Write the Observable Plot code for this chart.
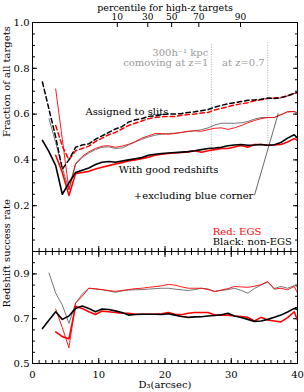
<!DOCTYPE html>
<html><head><meta charset="utf-8">
<script src="https://cdn.jsdelivr.net/npm/d3@7"></script>
<script src="https://cdn.jsdelivr.net/npm/@observablehq/plot@0.6"></script>
<style>
body{margin:0;background:#fff;}
#wrap{position:relative;width:304px;height:392px;overflow:hidden;}
#wrap svg{position:absolute;left:0;}
</style></head><body><div id="wrap"></div>
<script>
// separation bins (arcsec)
const D = [1.5,2.5,3.5,4.5,5.5,6.5,7.5,8.5,9.5,10.5,11.5,12.5,13.5,14.5,15.5,16.5,17.5,18.5,19.5,20.5,
           21.5,22.5,23.5,24.5,25.5,26.5,27.5,28.5,29.5,30.5,31.5,32.5,33.5,34.5,35.5,36.5,37.5,38.5,39.5,40.5];

// Top panel: fraction of all targets
const assignedNonEGS = [0.74,0.62,0.50,0.36,0.40,0.455,0.465,0.47,0.49,0.505,0.52,0.535,0.545,0.565,0.575,0.58,0.59,0.592,0.598,0.60,
                        0.60,0.603,0.607,0.61,0.615,0.62,0.63,0.638,0.645,0.65,0.655,0.66,0.662,0.665,0.67,0.668,0.672,0.68,0.69,0.70];
const assignedEGS = [null,null,0.55,0.46,0.40,0.44,0.45,0.46,0.48,0.495,0.51,0.52,0.535,0.55,0.56,0.57,0.58,0.585,0.588,0.59,
                     0.59,0.595,0.598,0.60,0.605,0.607,0.618,0.625,0.632,0.64,0.645,0.65,0.658,0.663,0.668,0.67,0.672,0.68,0.69,0.70];
const goodNonEGS = [0.485,0.435,0.375,0.25,0.30,0.345,0.355,0.365,0.38,0.39,0.393,0.39,0.395,0.40,0.405,0.41,0.42,0.425,0.428,0.43,
                    0.432,0.434,0.436,0.44,0.445,0.45,0.452,0.455,0.462,0.465,0.467,0.464,0.465,0.467,0.464,0.466,0.476,0.495,0.51,0.48];
const goodEGS = [null,null,0.42,0.345,0.245,0.34,0.345,0.35,0.36,0.368,0.375,0.382,0.388,0.395,0.40,0.405,0.412,0.42,0.425,0.428,
                 0.43,0.432,0.435,0.44,0.433,0.44,0.445,0.45,0.45,0.456,0.463,0.455,0.467,0.467,0.464,0.465,0.467,0.478,0.493,0.477];
const exclNonEGS = [null,0.58,0.475,0.365,0.27,0.38,0.41,0.43,0.445,0.455,0.457,0.45,0.452,0.465,0.478,0.49,0.50,0.508,0.512,0.515,
                    0.517,0.52,0.524,0.527,0.532,0.54,0.552,0.56,0.56,0.56,0.562,0.568,0.578,0.585,0.585,0.585,0.598,0.61,0.61,0.59];
const exclEGS = [null,null,0.71,0.49,0.27,0.385,0.415,0.435,0.45,0.46,0.462,0.455,0.46,0.468,0.48,0.495,0.505,0.515,0.515,0.512,
                 0.515,0.52,0.525,0.527,0.525,0.532,0.538,0.54,0.533,0.54,0.55,0.562,0.572,0.58,0.585,0.585,0.597,0.61,0.612,0.60];

// Bottom panel: redshift success rate
const successNonEGS = [0.656,0.694,0.731,0.697,0.712,0.746,0.757,0.746,0.731,0.743,0.741,0.735,0.728,0.716,0.719,0.72,0.72,0.72,0.719,0.722,
                       0.716,0.71,0.706,0.708,0.709,0.712,0.714,0.718,0.724,0.712,0.705,0.697,0.688,0.69,0.697,0.706,0.716,0.73,0.746,0.735];
const successEGS = [null,null,0.641,0.62,0.61,0.755,0.746,0.731,0.719,0.734,0.731,0.728,0.724,0.724,0.72,0.72,0.72,0.72,0.722,0.728,
                    0.72,0.718,0.724,0.728,0.728,0.728,0.716,0.716,0.716,0.712,0.71,0.706,0.69,0.706,0.694,0.69,0.686,0.705,0.731,0.657];
const successExclNonEGS = [null,0.904,0.814,0.761,0.679,0.769,0.81,0.836,0.832,0.829,0.824,0.818,0.824,0.828,0.829,0.83,0.832,0.834,0.836,0.836,
                           0.832,0.829,0.826,0.83,0.836,0.833,0.822,0.826,0.83,0.836,0.826,0.814,0.835,0.85,0.863,0.835,0.844,0.836,0.848,0.84];
const successExclEGS = [null,null,0.743,0.66,0.57,0.77,0.80,0.836,0.834,0.83,0.826,0.822,0.826,0.83,0.834,0.836,0.84,0.843,0.847,0.853,
                        0.85,0.842,0.836,0.836,0.836,0.83,0.821,0.828,0.834,0.844,0.842,0.84,0.845,0.852,0.866,0.832,0.836,0.829,0.844,0.785];

// Top axis: percentile for high-z targets
const pctLabels = ["10","30","50","70","90"];
const pctD = [12.8, 17.4, 21.0, 25.1, 31.4];

// 300 h^-1 kpc comoving separations
const sepZ1 = 27.0, sepZ07 = 35.5;

const rows = D.map((d, i) => ({d,
  a0: assignedNonEGS[i], a1: assignedEGS[i], g0: goodNonEGS[i], g1: goodEGS[i],
  e0: exclNonEGS[i], e1: exclEGS[i],
  s0: successNonEGS[i], s1: successEGS[i], x0: successExclNonEGS[i], x1: successExclEGS[i]}));

const FONT = "'DejaVu Serif', serif";
const RED = "#ff0000", GRAY = "#666666", LGRAY = "#9a9a9a";
const blank = () => "";
const fmt1 = d3.format(".1f");

const topPlot = Plot.plot({
  width: 304, height: 252, marginLeft: 32, marginRight: 7, marginTop: 22, marginBottom: 1,
  style: {fontFamily: FONT, fontSize: "10px", background: "none", overflow: "visible", color: "#000"},
  x: {domain: [0, 40]},
  y: {domain: [0, 1]},
  marks: [
    // axes
    Plot.axisY({ticks: [0.2,0.4,0.6,0.8,1.0], tickSize: -5, tickPadding: 8, tickFormat: fmt1, label: null}),
    Plot.axisY({ticks: d3.range(0, 1.001, 0.05), tickSize: -3, tickFormat: blank, label: null}),
    Plot.axisY({anchor: "right", ticks: [0.2,0.4,0.6,0.8,1.0], tickSize: -5, tickFormat: blank, label: null}),
    Plot.axisY({anchor: "right", ticks: d3.range(0, 1.001, 0.05), tickSize: -3, tickFormat: blank, label: null}),
    Plot.axisX({anchor: "bottom", ticks: [0,10,20,30,40], tickSize: -5, tickFormat: blank, label: null}),
    Plot.axisX({anchor: "bottom", ticks: d3.range(0, 41, 1), tickSize: -3, tickFormat: blank, label: null}),
    Plot.axisX(pctD, {anchor: "top", tickSize: -4, tickPadding: 7, fontSize: 9, tickFormat: d => pctLabels[pctD.indexOf(d)], label: null}),
    Plot.text(["percentile for high-z targets"], {frameAnchor: "top", dy: -18.5, fontSize: 9.5}),
    Plot.text(["Fraction of all targets"], {frameAnchor: "left", dx: -26, rotate: -90, fontSize: 10}),
    // separation markers
    Plot.ruleX([sepZ1], {y1: 0.397, y2: 0.909, stroke: LGRAY, strokeDasharray: "1,1.5", strokeWidth: 0.8}),
    Plot.ruleX([sepZ07], {y1: 0.47, y2: 0.909, stroke: LGRAY, strokeDasharray: "1,1.5", strokeWidth: 0.8}),
    Plot.text(["300h⁻¹ kpc"], {x: sepZ1, y: 0.867, dx: -3, textAnchor: "end", fill: LGRAY, fontSize: 10}),
    Plot.text(["comoving at z=1"], {x: sepZ1, y: 0.825, dx: -3, textAnchor: "end", fill: LGRAY, fontSize: 10}),
    Plot.text(["at z=0.7"], {x: sepZ07, y: 0.825, dx: -3, textAnchor: "end", fill: LGRAY, fontSize: 10}),
    // lines
    Plot.line(rows, {x: "d", y: "e0", stroke: GRAY, strokeWidth: 0.9, clip: true}),
    Plot.line(rows, {x: "d", y: "e1", stroke: RED, strokeWidth: 0.9, clip: true}),
    Plot.line(rows, {x: "d", y: "a1", stroke: RED, strokeWidth: 1.5, strokeDasharray: "4.5,3", clip: true}),
    Plot.line(rows, {x: "d", y: "a0", stroke: "#000", strokeWidth: 1.5, strokeDasharray: "4.5,3", clip: true}),
    Plot.line(rows, {x: "d", y: "g1", stroke: RED, strokeWidth: 1.6, clip: true}),
    Plot.line(rows, {x: "d", y: "g0", stroke: "#000", strokeWidth: 1.6, clip: true}),
    // annotations
    Plot.text(["Assigned to slits"], {x: 8.0, y: 0.61, textAnchor: "start", fontSize: 10}),
    Plot.text(["With good redshifts"], {x: 13.0, y: 0.355, textAnchor: "start", fontSize: 10}),
    Plot.text(["+excluding blue corner"], {x: 15.3, y: 0.243, textAnchor: "start", fontSize: 10}),
    Plot.link([0], {x1: 33.5, y1: 0.245, x2: 37.1, y2: 0.603, stroke: "#000", strokeWidth: 0.6}),
    Plot.text(["Red: EGS"], {x: 27.2, y: 0.087, textAnchor: "start", fill: RED, fontSize: 10}),
    Plot.text(["Black: non-EGS"], {x: 27.2, y: 0.044, textAnchor: "start", fontSize: 10}),
    Plot.frame({stroke: "#000", strokeWidth: 1})
  ]
});
topPlot.style.top = "0px";

const botPlot = Plot.plot({
  width: 304, height: 141, marginLeft: 32, marginRight: 7, marginTop: 0, marginBottom: 29,
  style: {fontFamily: FONT, fontSize: "10px", background: "none", overflow: "visible", color: "#000"},
  x: {domain: [0, 40]},
  y: {domain: [0.5, 1.0]},
  marks: [
    Plot.axisY({ticks: [0.5,0.7,0.9], tickSize: -5, tickPadding: 8, tickFormat: fmt1, label: null}),
    Plot.axisY({ticks: d3.range(0.5, 1.001, 0.05), tickSize: -3, tickFormat: blank, label: null}),
    Plot.axisY({anchor: "right", ticks: [0.5,0.7,0.9], tickSize: -5, tickFormat: blank, label: null}),
    Plot.axisY({anchor: "right", ticks: d3.range(0.5, 1.001, 0.05), tickSize: -3, tickFormat: blank, label: null}),
    Plot.axisX({anchor: "bottom", ticks: [0,10,20,30,40], tickSize: -5, tickPadding: 12, tickFormat: d3.format("d"), label: null}),
    Plot.axisX({anchor: "bottom", ticks: d3.range(0, 41, 1), tickSize: -3, tickFormat: blank, label: null}),
    Plot.axisX({anchor: "top", ticks: [0,10,20,30,40], tickSize: -5, tickFormat: blank, label: null}),
    Plot.axisX({anchor: "top", ticks: d3.range(0, 41, 1), tickSize: -3, tickFormat: blank, label: null}),
    Plot.text(["Redshift success rate"], {frameAnchor: "left", dx: -26, rotate: -90, fontSize: 10}),
    Plot.text(["D₃(arcsec)"], {frameAnchor: "bottom", dy: 24, fontSize: 10}),
    Plot.line(rows, {x: "d", y: "x0", stroke: GRAY, strokeWidth: 0.9, clip: true}),
    Plot.line(rows, {x: "d", y: "x1", stroke: RED, strokeWidth: 0.9, clip: true}),
    Plot.line(rows, {x: "d", y: "s1", stroke: RED, strokeWidth: 1.6, clip: true}),
    Plot.line(rows, {x: "d", y: "s0", stroke: "#000", strokeWidth: 1.6, clip: true}),
    Plot.frame({stroke: "#000", strokeWidth: 1})
  ]
});
botPlot.style.top = "251px";

const wrap = document.getElementById("wrap");
wrap.appendChild(topPlot);
wrap.appendChild(botPlot);
</script>
</body></html>
